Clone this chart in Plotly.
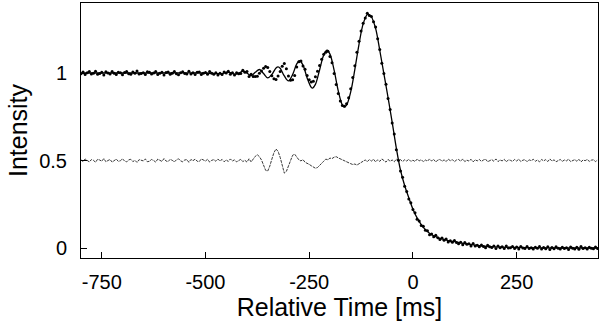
import plotly.graph_objects as go

# Tempo de amostragem (ms), passo de 5 ms
time_ms = list(range(-800, 450, 5))

# Intensidade observada (pontos)
intensity = [
    0.996, 1.006, 0.991, 1.002, 1.008, 0.995, 0.999, 1.010, 0.993, 0.997,
    1.004, 0.989, 1.007, 1.000, 0.994, 1.009, 0.998, 0.992, 1.005, 1.001,
    0.990, 1.003, 1.008, 0.996, 0.993, 1.006, 0.999, 1.011, 0.995, 0.997,
    1.002, 0.991, 1.007, 1.004, 0.994, 1.000, 1.009, 0.992, 0.998, 1.005,
    0.989, 1.003, 1.006, 0.993, 0.999, 1.008, 0.996, 0.990, 1.002, 1.007,
    0.997, 0.995, 1.010, 0.994, 1.001, 0.992, 1.004, 1.006, 0.991, 0.998,
    1.003, 0.993, 1.009, 0.999,
    0.993, 1.001, 0.988, 0.998, 0.991, 1.006, 1.000, 1.010, 0.993, 1.001,
    0.989, 1.001, 0.996, 0.997, 1.016, 1.005, 1.008, 0.980, 0.993, 0.980,
    0.980, 0.982, 0.998, 1.011, 1.027, 1.037, 1.032, 1.008, 0.984, 0.967,
    0.963, 0.983, 1.009, 1.039, 1.055, 1.025, 0.983, 0.958, 0.961, 0.986,
    1.034, 1.064, 1.068, 1.040, 1.022, 0.986, 0.961, 0.948, 0.953, 0.979,
    1.010, 1.043, 1.079, 1.107, 1.118, 1.124, 1.094, 1.058, 0.997, 0.934,
    0.883, 0.840, 0.815, 0.810, 0.825, 0.859, 0.910, 0.975, 1.041, 1.119,
    1.181, 1.240, 1.285, 1.314, 1.341, 1.328, 1.323, 1.293, 1.263, 1.196,
    1.135, 1.056, 0.997, 0.936, 0.854, 0.792, 0.715, 0.652, 0.562, 0.501,
    0.440, 0.404, 0.353, 0.323, 0.280, 0.258, 0.220, 0.201, 0.164, 0.154,
    0.129, 0.125, 0.102, 0.098, 0.076, 0.080, 0.064, 0.073, 0.058, 0.049,
    0.057, 0.045, 0.052, 0.035, 0.041, 0.033, 0.043, 0.031, 0.025, 0.033,
    0.018, 0.031, 0.021, 0.024, 0.012, 0.026, 0.012, 0.016, 0.007, 0.017,
    0.008, 0.002, 0.016, 0.007, 0.003, 0.011, -0.003, 0.012, 0.002, 0.007,
    -0.003, 0.012, 0.000, 0.002, 0.008, -0.003, 0.006, -0.006, 0.008, 0.000,
    -0.003, 0.009, -0.003, 0.002, -0.006, 0.005, -0.002, 0.009, -0.005, 0.003,
    -0.004, 0.007, -0.008, 0.003, -0.004, 0.007, -0.002, -0.006, 0.005, -0.003,
    0.002, -0.008, 0.006, -0.001, -0.005, 0.004, -0.007, 0.008, -0.003, 0.001,
    -0.006, 0.005, -0.002, -0.004, 0.006, -0.003,
]

# Residuos: modelo - observado, deslocados para 0.5
residual = [
    0.504, 0.494, 0.509, 0.498, 0.492, 0.505, 0.501, 0.490, 0.507, 0.503,
    0.496, 0.511, 0.493, 0.500, 0.506, 0.491, 0.502, 0.508, 0.495, 0.499,
    0.510, 0.497, 0.492, 0.504, 0.507, 0.494, 0.501, 0.489, 0.505, 0.503,
    0.498, 0.509, 0.493, 0.496, 0.506, 0.500, 0.491, 0.508, 0.502, 0.495,
    0.511, 0.497, 0.494, 0.507, 0.501, 0.492, 0.504, 0.510, 0.498, 0.493,
    0.503, 0.505, 0.490, 0.506, 0.499, 0.508, 0.496, 0.494, 0.509, 0.502,
    0.497, 0.507, 0.491, 0.501,
    0.505, 0.496, 0.508, 0.498, 0.506, 0.493, 0.503, 0.495, 0.509, 0.497,
    0.504, 0.492, 0.502, 0.507, 0.494, 0.501, 0.491, 0.510, 0.492, 0.512,
    0.524, 0.533, 0.522, 0.503, 0.470, 0.444, 0.440, 0.468, 0.508, 0.545,
    0.566, 0.552, 0.518, 0.468, 0.428, 0.438, 0.472, 0.506, 0.530, 0.536,
    0.518, 0.504, 0.498, 0.505, 0.490, 0.486, 0.478, 0.470, 0.462, 0.456,
    0.460, 0.474, 0.486, 0.496, 0.508, 0.504, 0.514, 0.511, 0.519, 0.522,
    0.515, 0.509, 0.502, 0.496, 0.491, 0.486, 0.482, 0.477, 0.480, 0.474,
    0.483, 0.489, 0.496, 0.503, 0.494, 0.505, 0.497, 0.507, 0.492, 0.504,
    0.495, 0.509, 0.498, 0.491, 0.506, 0.496, 0.503, 0.493, 0.508, 0.499,
    0.505, 0.494, 0.504, 0.497, 0.507, 0.495, 0.502, 0.494, 0.508, 0.498,
    0.505, 0.493, 0.503, 0.496, 0.509, 0.497, 0.506, 0.492, 0.502, 0.507,
    0.495, 0.504, 0.494, 0.508, 0.499, 0.505, 0.493, 0.503, 0.506, 0.496,
    0.509, 0.494, 0.502, 0.497, 0.507, 0.492, 0.504, 0.498, 0.506, 0.495,
    0.503, 0.508, 0.493, 0.501, 0.505, 0.496, 0.509, 0.494, 0.503, 0.498,
    0.507, 0.492, 0.504, 0.501, 0.495, 0.506, 0.497, 0.508, 0.494, 0.502,
    0.505, 0.493, 0.504, 0.499, 0.507, 0.496, 0.503, 0.492, 0.506, 0.498,
    0.505, 0.494, 0.509, 0.497, 0.504, 0.493, 0.502, 0.506, 0.495, 0.503,
    0.498, 0.508, 0.494, 0.501, 0.505, 0.496, 0.507, 0.492, 0.503, 0.499,
    0.506, 0.495, 0.502, 0.504, 0.494, 0.503,
]

# Modelo ajustado (linha continua)
fit_t = [
    -800, -700, -600, -500, -480, -470, -460, -450, -440, -430, -420, -410,
    -400, -390, -380, -370, -360, -350, -340, -330, -325, -320, -310, -300,
    -290, -280, -273, -265, -255, -245, -242, -235, -225, -215, -207, -200,
    -190, -180, -170, -165, -160, -150, -140, -130, -120, -110, -108, -100,
    -90, -80, -70, -60, -50, -40, -30, -20, -10, 0, 10, 20, 30, 40, 50, 60,
    70, 80, 90, 100, 120, 140, 160, 200, 250, 300, 350, 445,
]
fit_i = [
    1.000, 1.000, 1.000, 1.000, 0.998, 0.996, 0.997, 1.003, 1.002, 0.993, 0.998, 1.010,
    0.999, 0.985, 1.004, 1.020, 0.997, 0.972, 0.992, 1.029, 1.035, 1.027, 0.983, 0.955,
    0.991, 1.052, 1.070, 1.045, 0.972, 0.918, 0.914, 0.935, 1.017, 1.103, 1.130, 1.108,
    1.016, 0.898, 0.817, 0.806, 0.816, 0.892, 1.021, 1.164, 1.281, 1.335, 1.337, 1.320,
    1.255, 1.130, 0.995, 0.860, 0.718, 0.570, 0.445, 0.357, 0.287, 0.222, 0.172, 0.134,
    0.105, 0.085, 0.070, 0.060, 0.052, 0.046, 0.040, 0.036, 0.027, 0.019, 0.013, 0.006,
    0.003, 0.001, 0.000, 0.000,
]

x_ticks = [-750, -500, -250, 0, 250]
x_tick_labels = ["-750", "-500", "-250", "0", "250"]
y_ticks = [0, 0.5, 1]
y_tick_labels = ["0", "0.5", "1"]

fig = go.Figure()

fig.add_trace(go.Scatter(
    x=time_ms, y=residual, mode="lines",
    line=dict(color="#222222", width=0.9, dash="3px,1px"),
    showlegend=False,
))
fig.add_trace(go.Scatter(
    x=time_ms, y=intensity, mode="markers",
    marker=dict(color="black", size=3),
    showlegend=False,
))
fig.add_trace(go.Scatter(
    x=fit_t, y=fit_i, mode="lines",
    line=dict(color="black", width=1.3, shape="spline"),
    showlegend=False,
))

font = dict(family="Liberation Sans, Arial, sans-serif", size=21, color="black")

fig.update_layout(
    width=600, height=323,
    margin=dict(l=81, r=2, t=3, b=65),
    paper_bgcolor="white", plot_bgcolor="white",
    font=font,
    xaxis=dict(
        range=[-800, 446], tickvals=x_ticks, ticktext=x_tick_labels,
        ticks="inside", ticklen=6, tickcolor="black",
        showline=True, linecolor="black", linewidth=1, mirror=True,
        showgrid=False, zeroline=False, automargin=False,
        tickfont=dict(size=20),
        title=dict(text="Relative Time [ms]", standoff=3),
        ticklabelstandoff=6,
    ),
    yaxis=dict(
        range=[-0.057, 1.40], tickvals=y_ticks, ticktext=y_tick_labels,
        ticks="inside", ticklen=6, tickcolor="black",
        showline=True, linecolor="black", linewidth=1, mirror=True,
        showgrid=False, zeroline=False, automargin=False,
        tickfont=dict(size=20),
        title=dict(text="Intensity", standoff=4),
        ticklabelstandoff=9,
    ),
)

# sem margem do body para a figura ocupar a janela inteira
fig.write_html(
    "out.html",
    config={"displayModeBar": False},
    post_script="document.body.style.margin='0';",
)
